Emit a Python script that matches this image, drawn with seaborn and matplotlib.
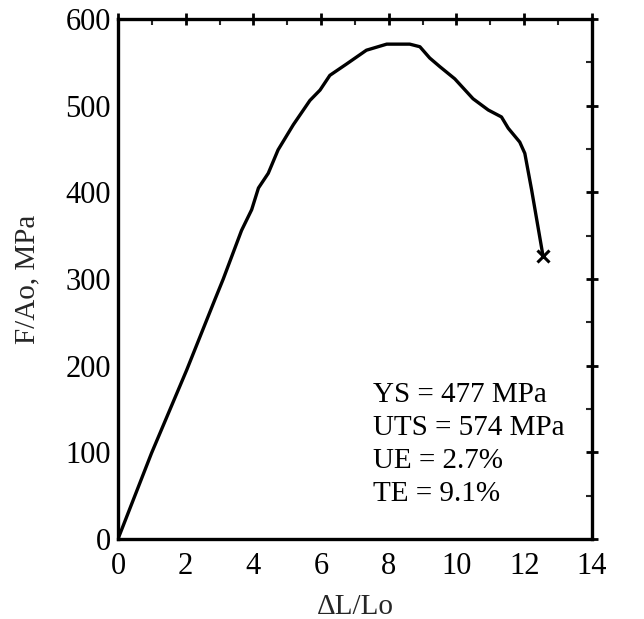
import numpy as np
import pandas as pd
import matplotlib
matplotlib.use("Agg")
import matplotlib.pyplot as plt
import seaborn as sns
from matplotlib.ticker import MultipleLocator

# Data
strain = [0.0, 0.99, 2.03, 2.86, 3.11, 3.65, 3.95, 4.15, 4.44, 4.73, 5.18, 5.67, 5.97,
          6.26, 6.75, 7.34, 7.94, 8.62, 8.92, 9.21, 9.51, 9.95, 10.49, 10.94, 11.33,
          11.53, 11.87, 12.02, 12.22, 12.56]
stress = [0, 99, 195, 276, 300, 356, 380, 405, 422, 449, 478, 506, 518,
          535, 548, 564, 571, 571, 568, 555, 545, 531, 508, 495, 487,
          474, 458, 445, 403, 326]
fracture_x = [12.56]
fracture_y = [326]
annotation_lines = ["YS = 477 MPa", "UTS = 574 MPa", "UE = 2.7%", "TE = 9.1%"]
x_ticks = [0, 2, 4, 6, 8, 10, 12, 14]
y_ticks = [0, 100, 200, 300, 400, 500, 600]

sns.set_style("white")
plt.rcParams['font.family'] = ['Liberation Serif', 'DejaVu Serif']

df = pd.DataFrame({"strain": strain, "stress": stress})

fig = plt.figure(figsize=(6.44, 6.19), dpi=100)
ax = fig.add_axes([0.1832, 0.1292, 0.919 - 0.1832, 0.9693 - 0.1292])

sns.lineplot(data=df, x="strain", y="stress", sort=False, color="black",
             linewidth=2.4, ax=ax, estimator=None)
ax.plot(fracture_x, fracture_y, marker="x", color="black", markersize=9,
        markeredgewidth=2.2, linestyle="none")

ax.set_xlim(0, 14)
ax.set_ylim(0, 600)
ax.set_xticks(x_ticks)
ax.set_yticks(y_ticks)
ax.xaxis.set_minor_locator(MultipleLocator(1))
ax.yaxis.set_minor_locator(MultipleLocator(50))

for s in ax.spines.values():
    s.set_linewidth(2.4)
    s.set_color("black")

ax.tick_params(axis="both", which="major", direction="inout", length=8, width=2,
               labelsize=22, top=True, right=True, colors="black")
ax.tick_params(axis="x", which="major", pad=5)
ax.tick_params(axis="y", which="major", pad=1)
ax.tick_params(axis="both", which="minor", direction="in", length=4, width=1.5,
               top=True, right=True)

ax.set_xlabel("ΔL/Lo", fontsize=21, labelpad=10)
ax.set_ylabel("F/Ao, MPa", fontsize=21, labelpad=18)

ys = [158, 120, 82, 44]
for txt, yv in zip(annotation_lines, ys):
    ax.text(7.53, yv, txt, fontsize=21, ha="left", va="baseline", color="black")

fig.savefig("out.png", dpi=100)
